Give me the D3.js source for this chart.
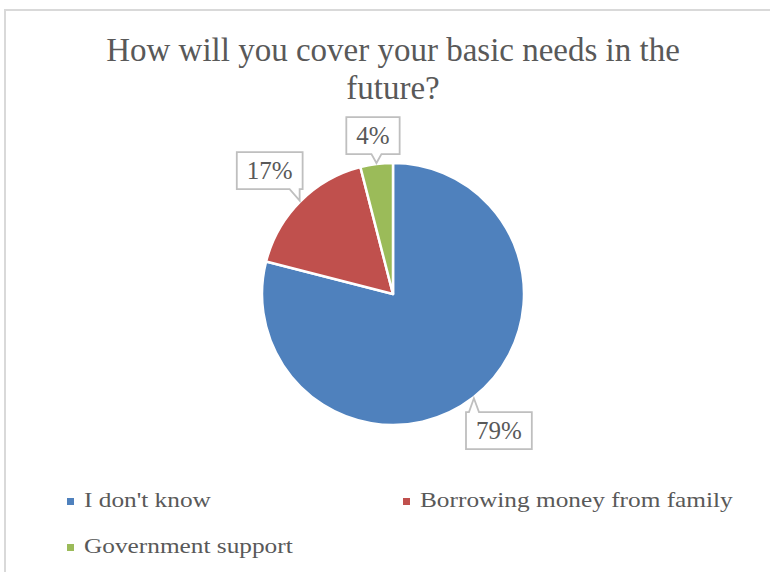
<!DOCTYPE html>
<html>
<head>
<meta charset="utf-8">
<script src="https://cdn.jsdelivr.net/npm/d3@7"></script>
<style>
  html, body { margin: 0; padding: 0; background: #fff; }
  svg { display: block; }
  text { font-family: "Liberation Serif", "DejaVu Serif", serif; fill: #595959; }
</style>
</head>
<body>
<svg id="chart" width="770" height="572"></svg>
<script>
// Survey answers and their shares (percent)
const titleLines = ["How will you cover your basic needs in the", "future?"];
const categories = ["I don't know", "Borrowing money from family", "Government support"];
const shares = [79, 17, 4];
const colors = ["#4F81BD", "#C0504D", "#9BBB59"];

const W = 770, H = 572;
const svg = d3.select("#chart");

// Widen a text element's glyphs by a factor (the serif face runs narrow)
function widen(sel, k) {
  const w = sel.node().getComputedTextLength();
  sel.attr("textLength", w * k).attr("lengthAdjust", "spacingAndGlyphs");
}

// Chart area frame (runs off the right and bottom edges)
svg.append("rect")
  .attr("x", 5).attr("y", 10)
  .attr("width", 820).attr("height", 620)
  .attr("fill", "#fff")
  .attr("stroke", "#d9d9d9").attr("stroke-width", 2);

// Title
const title = svg.append("text")
  .attr("text-anchor", "middle")
  .attr("font-size", 33);
title.selectAll("tspan").data(titleLines).join("tspan")
  .attr("x", 393)
  .attr("y", (d, i) => 61 + i * 38)
  .text(d => d);

// Pie
const cx = 393, cy = 294, R = 131;
const data = categories.map((c, i) => ({ name: c, value: shares[i], color: colors[i] }));
const pie = d3.pie().value(d => d.value).sort(null);
const arcs = pie(data);
const arc = d3.arc().innerRadius(0).outerRadius(R);

const g = svg.append("g").attr("transform", `translate(${cx},${cy})`);
g.selectAll("path.slice").data(arcs).join("path")
  .attr("class", "slice")
  .attr("d", arc)
  .attr("fill", d => d.data.color)
  .attr("stroke", "#fff")
  .attr("stroke-width", 2.5)
  .attr("stroke-linejoin", "round");

// Data labels as callout boxes placed outside each slice
const fmt = d => d.data.value + "%";
const labelSize = 25, padX = 10, boxH = 37, gap = 7, hw = 5;

const labels = g.append("g");
arcs.forEach(d => {
  const mid = (d.startAngle + d.endAngle) / 2;
  const dx = Math.sin(mid), dy = -Math.cos(mid);

  const t = labels.append("text")
    .attr("font-size", labelSize)
    .attr("text-anchor", "middle")
    .text(fmt(d));
  const tw = t.node().getComputedTextLength();
  const bw = tw + padX * 2, bh = boxH;

  const ext = Math.abs(dx) * bw / 2 + Math.abs(dy) * bh / 2;
  const rc = R + gap + ext;
  const bx = dx * rc, by = dy * rc;
  const x0 = bx - bw / 2, x1 = bx + bw / 2, y0 = by - bh / 2, y1 = by + bh / 2;

  // pointer target on the slice edge
  const tx = dx * (R + 1), ty = dy * (R + 1);
  let p;
  if (ty > y1) {
    const px = Math.max(x0 + 8, Math.min(x1 - 8, tx));
    p = `M${x0},${y0}H${x1}V${y1}H${px + hw}L${tx},${ty}L${px - hw},${y1}H${x0}Z`;
  } else if (ty < y0) {
    const px = Math.max(x0 + 8, Math.min(x1 - 8, tx));
    p = `M${x0},${y0}H${px - hw}L${tx},${ty}L${px + hw},${y0}H${x1}V${y1}H${x0}Z`;
  } else {
    p = `M${x0},${y0}H${x1}V${y1}H${x0}Z`;
  }
  labels.insert("path", "text")
    .attr("d", p)
    .attr("fill", "#fff")
    .attr("stroke", "#bfbfbf")
    .attr("stroke-width", 1.8);

  t.attr("x", bx).attr("y", by + labelSize * 0.34);
});

// Legend
const legendPos = [[67, 507], [403, 507], [67, 553]];
const leg = svg.append("g");
data.forEach((d, i) => {
  const [lx, ly] = legendPos[i];
  leg.append("rect")
    .attr("x", lx).attr("y", ly - 9)
    .attr("width", 7).attr("height", 7)
    .attr("fill", d.color);
  const t = leg.append("text")
    .attr("x", lx + 17).attr("y", ly)
    .attr("font-size", 22)
    .text(d.name);
  widen(t, 1.15);
});
</script>
</body>
</html>
